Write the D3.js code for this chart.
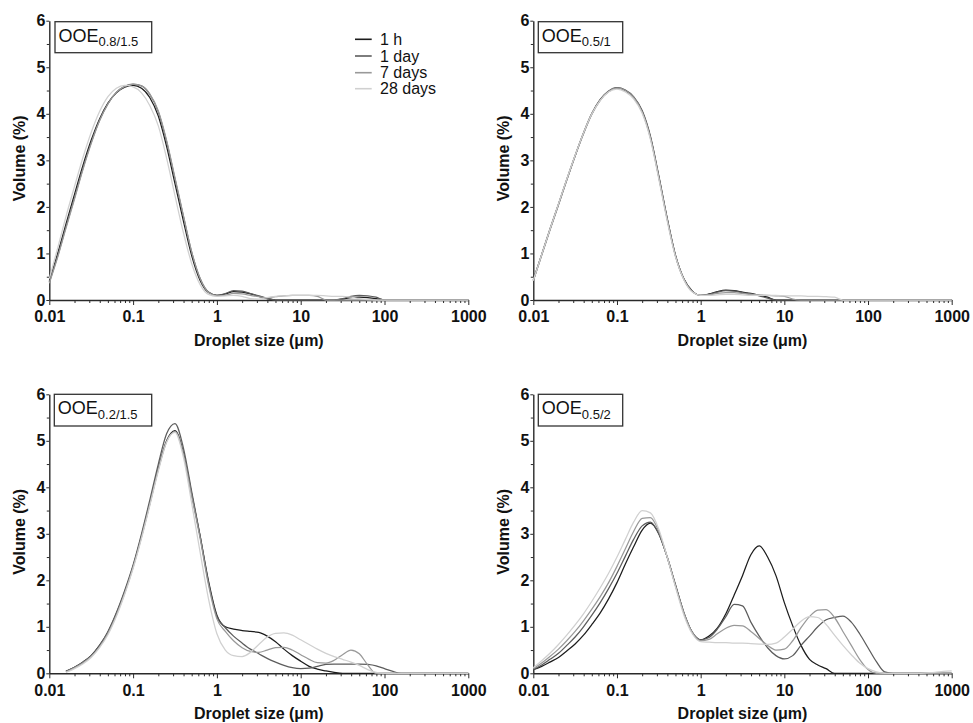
<!DOCTYPE html>
<html><head><meta charset="utf-8">
<script src="https://cdn.jsdelivr.net/npm/d3@7"></script>
<style>
body{margin:0;background:#fff}
svg{display:block}
text{font-family:"Liberation Sans",Arial,Helvetica,sans-serif}
</style>
</head><body>
<svg id="chart" width="973" height="723"></svg>
<script>
// Droplet sizes (µm), shared x grid
const sizes = [0.01,0.0126,0.0158,0.02,0.0251,0.0316,0.0398,0.0501,0.0631,0.0794,
  0.1,0.126,0.158,0.2,0.251,0.316,0.398,0.501,0.631,0.794,
  1,1.26,1.58,2,2.51,3.16,3.98,5.01,6.31,7.94,
  10,12.6,15.8,20,25.1,31.6,39.8,50.1,63.1,79.4,
  100,126,158,200,251,316,398,501,631,794,1000];

const seriesNames = ["1 h","1 day","7 days","28 days"];
const xTickValues = [0.01,0.1,1,10,100,1000];
const xTickLabels = ["0.01","0.1","1","10","100","1000"];
const yTickValues = [0,1,2,3,4,5,6];
const yTickLabels = ["0","1","2","3","4","5","6"];
const panelMain = ["OOE","OOE","OOE","OOE"];
const panelSub = ["0.8/1.5","0.5/1","0.2/1.5","0.5/2"];

// Panel OOE 0.8/1.5
const a1h = [0.40,1.00,1.63,2.27,2.88,3.43,3.89,4.23,4.45,4.57,
  4.61,4.55,4.35,3.95,3.30,2.50,1.70,0.95,0.42,0.16,
  0.10,0.13,0.18,0.17,0.13,0.08,0.03,0,0,0,
  0,0,0,0,0,0.02,0.05,0.06,0.05,0.03,
  0,0,0,0,0,0,0,0,0,0,0];
const a1d = [0.38,0.95,1.57,2.20,2.82,3.38,3.86,4.22,4.46,4.59,
  4.64,4.60,4.42,4.04,3.40,2.60,1.80,1.02,0.46,0.17,
  0.10,0.14,0.20,0.19,0.14,0.09,0.04,0,0,0,
  0,0,0,0,0,0.03,0.08,0.10,0.09,0.06,
  0,0,0,0,0,0,0,0,0,0,0];
const a7d = [0.36,0.92,1.54,2.17,2.79,3.36,3.85,4.21,4.46,4.59,
  4.63,4.60,4.43,4.06,3.43,2.63,1.82,1.03,0.46,0.16,
  0.09,0.10,0.14,0.13,0.10,0.07,0.05,0.07,0.09,0.10,
  0.10,0.10,0.08,0,0,0,0,0,0,0,
  0,0,0,0,0,0,0,0,0,0,0];
const a28d = [0.46,1.12,1.79,2.44,3.05,3.60,4.05,4.37,4.55,4.61,
  4.58,4.45,4.18,3.74,3.05,2.24,1.45,0.78,0.33,0.12,
  0.08,0.09,0.10,0.08,0.03,0.02,0.05,0.08,0.09,0.10,
  0.10,0.10,0.10,0.09,0.08,0.08,0.06,0.03,0.01,0,
  0,0,0,0,0,0,0,0,0,0,0];

// Panel OOE 0.5/1
const b1h = [0.43,0.98,1.52,2.06,2.59,3.10,3.58,4.00,4.30,4.48,
  4.55,4.50,4.35,4.05,3.50,2.65,1.75,0.95,0.45,0.19,
  0.10,0.13,0.18,0.21,0.20,0.17,0.14,0.10,0.06,0,
  0,0,0,0,0,0,0,0,0,0,
  0,0,0,0,0,0,0,0,0,0,0];
const b1d = [0.42,0.97,1.51,2.05,2.58,3.10,3.59,4.01,4.31,4.49,
  4.56,4.51,4.37,4.07,3.52,2.67,1.76,0.96,0.45,0.19,
  0.10,0.12,0.17,0.20,0.19,0.16,0.13,0.09,0.04,0,
  0,0,0,0,0,0,0,0,0,0,
  0,0,0,0,0,0,0,0,0,0,0];
const b7d = [0.41,0.96,1.50,2.04,2.57,3.09,3.57,3.99,4.29,4.48,
  4.55,4.50,4.35,4.04,3.48,2.63,1.73,0.94,0.44,0.18,
  0.10,0.11,0.14,0.16,0.16,0.14,0.12,0.11,0.10,0.09,
  0.08,0.02,0,0,0,0,0,0,0,0,
  0,0,0,0,0,0,0,0,0,0,0];
const b28d = [0.42,0.98,1.52,2.07,2.60,3.11,3.59,4.00,4.29,4.47,
  4.53,4.47,4.32,4.01,3.45,2.60,1.70,0.92,0.43,0.17,
  0.10,0.10,0.11,0.12,0.12,0.11,0.10,0.10,0.10,0.10,
  0.09,0.09,0.09,0.08,0.08,0.07,0.06,0,0,0,
  0,0,0,0,0,0,0,0,0,0,0];

// Panel OOE 0.2/1.5
const c1h = [null,null,0.04,0.13,0.24,0.38,0.60,0.88,1.28,1.75,
  2.30,2.95,3.65,4.40,5.00,5.22,4.75,3.85,2.95,1.98,
  1.25,1.00,0.95,0.92,0.90,0.88,0.80,0.68,0.52,0.38,
  0.26,0.15,0.09,0.05,0.02,0,0,0,0,0,
  0,0,0,0,0,0,0,0,0,0,0];
const c1d = [null,null,0.04,0.13,0.24,0.38,0.60,0.90,1.30,1.78,
  2.33,3.00,3.72,4.50,5.15,5.37,4.85,3.90,2.95,1.95,
  1.22,0.98,0.80,0.65,0.52,0.42,0.32,0.24,0.17,0.12,
  0.10,0.11,0.15,0.19,0.20,0.20,0.20,0.20,0.19,0.16,
  0.10,0.04,0,0,0,0,0,0,0,0,0];
const c7d = [null,null,0.03,0.12,0.22,0.36,0.57,0.86,1.25,1.72,
  2.28,2.93,3.63,4.38,4.98,5.20,4.72,3.80,2.90,1.90,
  1.17,0.90,0.70,0.55,0.47,0.45,0.50,0.55,0.56,0.50,
  0.40,0.30,0.23,0.22,0.28,0.40,0.50,0.42,0.18,0,
  0,0,0,0,0,0,0,0,0,0,0];
const c28d = [null,null,0.02,0.10,0.20,0.34,0.55,0.83,1.22,1.70,
  2.25,2.90,3.60,4.35,4.97,5.18,4.65,3.65,2.60,1.60,
  0.85,0.50,0.38,0.36,0.45,0.62,0.78,0.86,0.87,0.82,
  0.72,0.62,0.52,0.43,0.36,0.30,0.24,0.17,0.08,0.02,
  0,0,0,0,0,0,0,0,0,0,0];

// Panel OOE 0.5/2
const d1h = [0.08,0.15,0.24,0.34,0.48,0.63,0.82,1.05,1.30,1.60,
  1.95,2.35,2.72,3.08,3.23,3.00,2.50,1.90,1.30,0.88,
  0.72,0.80,0.97,1.28,1.68,2.10,2.55,2.74,2.50,2.10,
  1.52,1.02,0.60,0.30,0.18,0.10,0,0,0,0,
  0,0,0,0,0,0,0,0,0,0,0];
const d1d = [0.08,0.18,0.30,0.43,0.60,0.78,1.00,1.25,1.52,1.82,
  2.15,2.52,2.88,3.17,3.25,3.00,2.50,1.88,1.30,0.88,
  0.72,0.77,0.95,1.22,1.48,1.45,1.10,0.80,0.55,0.38,
  0.31,0.38,0.60,0.80,1.00,1.15,1.20,1.23,1.10,0.85,
  0.55,0.25,0.03,0,0,0,0,0,0,0,0];
const d7d = [0.10,0.22,0.36,0.52,0.70,0.90,1.13,1.38,1.65,1.95,
  2.30,2.68,3.05,3.33,3.35,3.05,2.50,1.88,1.30,0.88,
  0.70,0.73,0.85,0.97,1.03,1.02,0.90,0.75,0.60,0.50,
  0.52,0.70,0.98,1.22,1.36,1.37,1.20,0.90,0.60,0.30,
  0.08,0,0,0,0,0,0,0,0,0,0];
const d28d = [0.12,0.27,0.43,0.62,0.82,1.04,1.28,1.55,1.84,2.15,
  2.50,2.88,3.25,3.50,3.45,3.10,2.50,1.85,1.25,0.85,
  0.68,0.67,0.66,0.66,0.65,0.65,0.64,0.63,0.62,0.65,
  0.78,0.95,1.12,1.22,1.20,1.05,0.82,0.60,0.40,0.22,
  0.10,0.03,0,0,0,0,0,0.01,0.02,0.04,0.05];

const panelData = [[a1h,a1d,a7d,a28d],[b1h,b1d,b7d,b28d],[c1h,c1d,c7d,c28d],[d1h,d1d,d7d,d28d]];

// ---- layout / style ----
const colors = ["#1c1c1c","#5c5c5c","#999999","#d0d0d0"];
const layout = [
  {x0:49.3, x1:468.3, y0:300,   y1:20.7,  box:[55,21.7,96.7,31]},
  {x0:533.3,x1:951.7, y0:300,   y1:20.7,  box:[538.3,21.7,84.4,31]},
  {x0:49.3, x1:468.3, y0:673.3, y1:394.3, box:[54.3,394.3,97.4,31.7]},
  {x0:533.3,x1:951.7, y0:673.3, y1:394.3, box:[538.3,394.3,84.4,31.7]}
];
const svg = d3.select("#chart");
const axisColor = "#2a2a2a";

const minorX = [];
[0.01,0.1,1,10,100].forEach(b => { for (let m = 2; m <= 9; m++) minorX.push(b*m); });
const minorY = [0.5,1.5,2.5,3.5,4.5,5.5];

layout.forEach((L, pi) => {
  const x = d3.scaleLog().domain([0.01,1000]).range([L.x0, L.x1]);
  const y = d3.scaleLinear().domain([0,6]).range([L.y0, L.y1]);
  const g = svg.append("g");

  // x axis
  g.append("g").attr("transform", `translate(0,${L.y0})`)
    .call(d3.axisBottom(x).tickValues(xTickValues).tickSize(5).tickSizeOuter(0).tickPadding(6)
      .tickFormat((d,i) => xTickLabels[i]));
  g.append("g").attr("transform", `translate(0,${L.y0})`)
    .call(d3.axisBottom(x).tickValues(minorX).tickSize(3).tickFormat(""))
    .call(s => s.select(".domain").remove());
  // y axis
  g.append("g").attr("transform", `translate(${L.x0},0)`)
    .call(d3.axisLeft(y).tickValues(yTickValues).tickSize(3).tickSizeOuter(0).tickPadding(1)
      .tickFormat((d,i) => yTickLabels[i]));
  g.append("g").attr("transform", `translate(${L.x0},0)`)
    .call(d3.axisLeft(y).tickValues(minorY).tickSize(2.5).tickFormat(""))
    .call(s => s.select(".domain").remove());

  g.selectAll(".domain").attr("stroke", axisColor).attr("stroke-width", 1.4);
  g.selectAll(".tick line").attr("stroke", axisColor).attr("stroke-width", 1);
  g.selectAll(".tick text").attr("fill", "#111").style("font-size", "16px").style("font-weight", "bold")
    .style("font-family", '"Liberation Sans",Arial,sans-serif');

  // axis titles
  g.append("text")
    .attr("transform", `translate(${L.x0 - 24.5},${(L.y0 + L.y1)/2 - 2}) rotate(-90)`)
    .attr("text-anchor", "middle").attr("fill", "#111")
    .style("font-size", "16px").style("font-weight", "bold").text("Volume (%)");
  g.append("text")
    .attr("x", (L.x0 + L.x1)/2).attr("y", L.y0 + 46)
    .attr("text-anchor", "middle").attr("fill", "#111")
    .style("font-size", "16px").style("font-weight", "bold").text("Droplet size (μm)");

  // curves
  const line = d3.line()
    .defined(d => d[1] !== null)
    .x(d => x(d[0])).y(d => y(d[1]))
    .curve(d3.curveMonotoneX);
  panelData[pi].forEach((vals, si) => {
    const pts = sizes.map((s, k) => [s, vals[k]]);
    g.append("path").datum(pts)
      .attr("fill", "none").attr("stroke", colors[si]).attr("stroke-width", 1.25)
      .attr("stroke-linejoin", "round").attr("d", line);
  });

  // panel label box
  const [bx, by, bw, bh] = L.box;
  g.append("rect").attr("x", bx).attr("y", by).attr("width", bw).attr("height", bh)
    .attr("fill", "#fff").attr("stroke", "#333").attr("stroke-width", 1.3);
  const t = g.append("text").attr("x", bx + 3.5).attr("y", by + 20).attr("fill", "#111")
    .style("font-size", "18px");
  t.append("tspan").text(panelMain[pi]);
  t.append("tspan").attr("dy", 4.5).style("font-size", "13px").text(panelSub[pi]);
});

// legend (top-left panel)
const legY = [39.3, 56, 72.7, 88.7];
const leg = svg.append("g");
seriesNames.forEach((name, i) => {
  leg.append("line").attr("x1", 355).attr("x2", 371.7).attr("y1", legY[i]).attr("y2", legY[i])
    .attr("stroke", colors[i]).attr("stroke-width", 1.6);
  leg.append("text").attr("x", 380).attr("y", legY[i] + 5.6).attr("fill", "#111")
    .style("font-size", "16px").text(name);
});
</script>
</body></html>
